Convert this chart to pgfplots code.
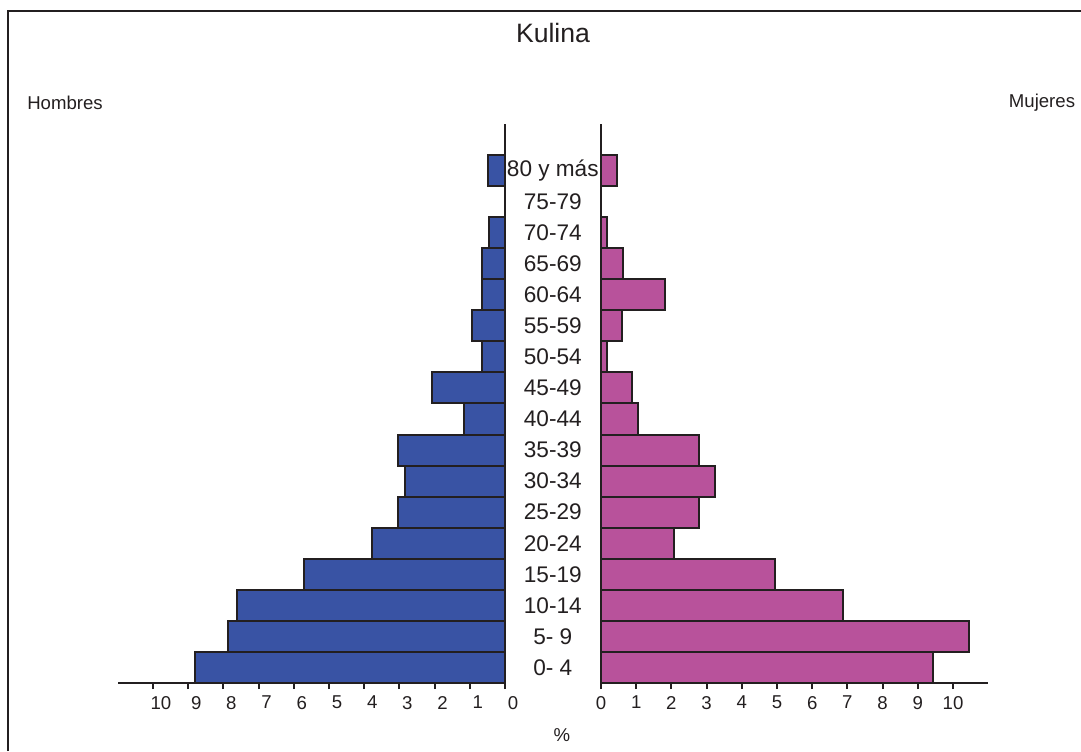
\documentclass[border=0pt]{standalone}
\usepackage{pgfplots}
\pgfplotsset{compat=1.18}
\usepackage{fontspec}
\setmainfont{Liberation Sans}

\definecolor{hombres}{HTML}{3953A4}
\definecolor{mujeres}{HTML}{B8529B}
\definecolor{edge}{HTML}{231F20}

% porcentajes por grupo de edad, 0-4 (0) ... 80 y mas (16)
\pgfplotstableread{
idx  h     m
0    8.80  9.43
1    7.87  10.46
2    7.61  6.87
3    5.71  4.93
4    3.78  2.08
5    3.04  2.79
6    2.84  3.25
7    3.04  2.79
8    1.16  1.05
9    2.07  0.88
10   0.65  0.17
11   0.94  0.60
12   0.65  1.82
13   0.65  0.63
14   0.45  0.17
15   0.00  0.00
16   0.48  0.45
}\pyramid

\pgfplotsset{
  pyr/.style={
    x=17.6pt, y=15.53pt,
    scale only axis,
    xmin=0, xmax=11,
    ymin=-0.5, ymax=17.5,
    axis x line=bottom,
    axis y line=none,
    axis line style={-, line width=1.2pt, draw=edge},
    xtick={0,...,10},
    tick align=outside,
    major tick length=3pt,
    every tick/.style={line width=1pt, draw=edge},
    ytick=\empty,
    /pgf/number format/assume math mode=true,
    tick label style={font=\fontsize{9.3}{11}\selectfont, text=edge},
    xbar, bar width=1,
    clip=false,
  },
}

\begin{document}
\begin{tikzpicture}
\begin{axis}[pyr, x dir=reverse,
    at={(252.5pt,34pt)}, anchor=south east,
    xticklabel style={xshift=4pt}]
\addplot[fill=hombres, draw=edge, line width=1pt] table[x=h, y=idx] {\pyramid};
\draw[line width=1.2pt, draw=edge] (axis cs:0,-0.5) -- (axis cs:0,17.5);
\end{axis}

\begin{axis}[pyr,
    at={(300.5pt,34pt)}, anchor=south west]
\addplot[fill=mujeres, draw=edge, line width=1pt] table[x=m, y=idx] {\pyramid};
\draw[line width=1.2pt, draw=edge] (axis cs:0,-0.5) -- (axis cs:0,17.5);
\pgfplotsinvokeforeach{0,...,16}{\coordinate (age#1) at (axis cs:-1.37,#1);}
\end{axis}

\foreach \i/\t in {0/0- 4,1/5- 9,2/10-14,3/15-19,4/20-24,5/25-29,6/30-34,7/35-39,
  8/40-44,9/45-49,10/50-54,11/55-59,12/60-64,13/65-69,14/70-74,15/75-79,16/80 y más}
  \node[fill=white, inner sep=0.3pt, font=\fontsize{11.3}{13}\selectfont, text=edge] at (age\i) {\t};

\node[font=\fontsize{13.3}{15}\selectfont, text=edge] at (276.5pt,359pt) {Kulina};
\node[font=\fontsize{9.3}{11}\selectfont, text=edge] at (32.5pt,324pt) {Hombres};
\node[font=\fontsize{9.3}{11}\selectfont, text=edge] at (521pt,324pt) {Mujeres};
\node[font=\fontsize{9.3}{11}\selectfont, text=edge] at (281pt,8pt) {\%};

\draw[line width=1pt, draw=edge] (4pt,0pt) -- (4pt,370pt) -- (540.5pt,370pt);

\pgfresetboundingbox
\path[use as bounding box] (0,0) rectangle (540.5pt,375.5pt);
\end{tikzpicture}
\end{document}
